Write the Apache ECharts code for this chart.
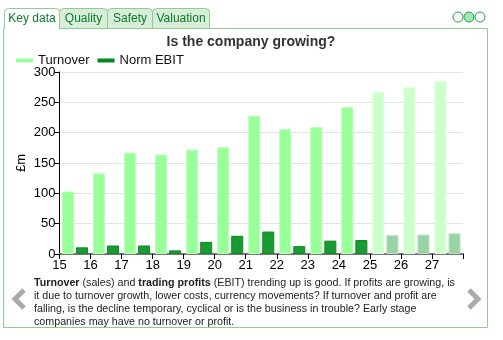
<!DOCTYPE html>
<html><head><meta charset="utf-8">
<script src="https://cdn.jsdelivr.net/npm/echarts@6/dist/echarts.min.js"></script>
<style>html,body{margin:0;padding:0;background:#fff}#c{width:503px;height:340px}</style>
</head><body><div id="c"></div>
<script>
const years = ['15','16','17','18','19','20','21','22','23','24','25','26','27'];
const turnover = [103, 133, 167, 164, 172, 176, 228, 206, 209, 242, 267, 275, 285];
const normEbit = [11, 14, 14, 6, 20, 30, 37, 13, 22, 23, 31, 32, 34];
const forecastStart = 10;
const tabs = ['Key data', 'Quality', 'Safety', 'Valuation'];

const FONT = 'Liberation Sans, Arial, sans-serif';
const chart = echarts.init(document.getElementById('c'), null, {renderer: 'canvas'});

function items(vals, col, border, fcol, fborder) {
  return vals.map((v, i) => ({
    value: v,
    itemStyle: i >= forecastStart ? {color: fcol, borderColor: fborder} : {color: col, borderColor: border}
  }));
}

const tabX = [4, 59, 107, 152, 209];
const graphics = [];
graphics.push({type: 'polyline', shape: {points: [[tabX[1], 28.5], [487.5, 28.5], [487.5, 327.5], [3.5, 327.5], [3.5, 28.5]]},
  style: {stroke: '#8fcc8f', lineWidth: 1, fill: null}, z: 1});
tabs.forEach((t, i) => {
  const x0 = tabX[i], x1 = tabX[i + 1];
  const active = i === 0;
  graphics.push({type: 'rect', shape: {x: x0 + 0.5, y: 8.5, width: x1 - x0, height: active ? 20.5 : 20, r: [4, 4, 0, 0]},
    style: {fill: active ? '#ffffff' : '#d8eed8', stroke: '#8fcc8f', lineWidth: 1}, z: 2});
  if (active) graphics.push({type: 'rect', shape: {x: x0 + 1, y: 27, width: x1 - x0 - 1, height: 3}, style: {fill: '#fff'}, z: 3});
  graphics.push({type: 'text', x: (x0 + x1) / 2 + 0.5, y: 18.5,
    style: {text: t, font: '12px ' + FONT, fill: '#0a7a2a', textAlign: 'center', textVerticalAlign: 'middle'}, z: 4});
});
[458, 469, 480].forEach((cx, i) => {
  graphics.push({type: 'circle', shape: {cx: cx, cy: 17, r: 5},
    style: {fill: i === 1 ? '#9de8b0' : '#ffffff', stroke: '#2a9a4a', lineWidth: 1}, z: 2});
});
graphics.push({type: 'polyline', shape: {points: [[24, 290], [15, 299], [24, 308]]},
  style: {stroke: '#aaaaaa', lineWidth: 5, fill: null, lineJoin: 'miter'}, z: 2});
graphics.push({type: 'polyline', shape: {points: [[469, 290], [478, 299], [469, 308]]},
  style: {stroke: '#aaaaaa', lineWidth: 5, fill: null, lineJoin: 'miter'}, z: 2});
graphics.push({type: 'text', x: 34, y: 277,
  style: {
    text: '{b|Turnover} (sales) and {b|trading profits} (EBIT) trending up is good. If profits are growing, is\n' +
      'it due to turnover growth, lower costs, currency movements? If turnover and profit are\n' +
      'falling, is the decline temporary, cyclical or is the business in trouble? Early stage\n' +
      'companies may have no turnover or profit.',
    font: '10.7px ' + FONT, fill: '#222', lineHeight: 13,
    rich: {b: {fontWeight: 'bold', fontSize: 10.7, fontFamily: FONT, fill: '#222', lineHeight: 13}}
  }, z: 2});

chart.setOption({
  animation: false,
  title: {text: 'Is the company growing?', left: 246, textAlign: 'center', top: 30,
    textStyle: {fontFamily: FONT, fontSize: 14, fontWeight: 'bold', color: '#333'}},
  legend: {left: 11, top: 49, itemWidth: 17, itemHeight: 4, itemGap: 8, icon: 'rect',
    textStyle: {fontFamily: FONT, fontSize: 13, color: '#111'},
    data: [{name: 'Turnover', itemStyle: {color: '#99ff99', borderWidth: 0}},
           {name: 'Norm EBIT', itemStyle: {color: '#008a1a', borderWidth: 0}}]},
  grid: {left: 59.5, right: 40, top: 72, bottom: 86},
  xAxis: {type: 'category', data: years,
    axisLine: {lineStyle: {color: '#777', width: 2}},
    axisTick: {show: true, length: 5, lineStyle: {color: '#000', width: 1}},
    axisLabel: {fontFamily: FONT, fontSize: 13, color: '#000', margin: 5, padding: [0, 31, 0, 0]}},
  yAxis: {type: 'value', min: 0, max: 300, interval: 50, name: '£m', nameLocation: 'middle', nameGap: 32,
    nameMoveOverlap: false,
    nameTextStyle: {fontFamily: FONT, fontSize: 13, color: '#000'},
    axisLine: {show: true, lineStyle: {color: '#000', width: 1}},
    axisTick: {show: true, length: 5, lineStyle: {color: '#000'}},
    axisLabel: {fontFamily: FONT, fontSize: 13, color: '#000', margin: 4},
    splitLine: {lineStyle: {color: '#e4e4e4', width: 1}}},
  series: [
    {name: 'Turnover', type: 'bar', barWidth: 12, barGap: '17%',
      data: items(turnover, '#99ff99', '#b8ffb8', '#ccffcc', '#ddffdd'),
      itemStyle: {borderWidth: 1}},
    {name: 'Norm EBIT', type: 'bar', barWidth: 12, barGap: '17%',
      data: items(normEbit, '#1a9a33', '#0d8a26', '#99d3a5', '#b5e0bf'),
      itemStyle: {borderWidth: 1}}
  ],
  graphic: graphics
});
</script></body></html>
